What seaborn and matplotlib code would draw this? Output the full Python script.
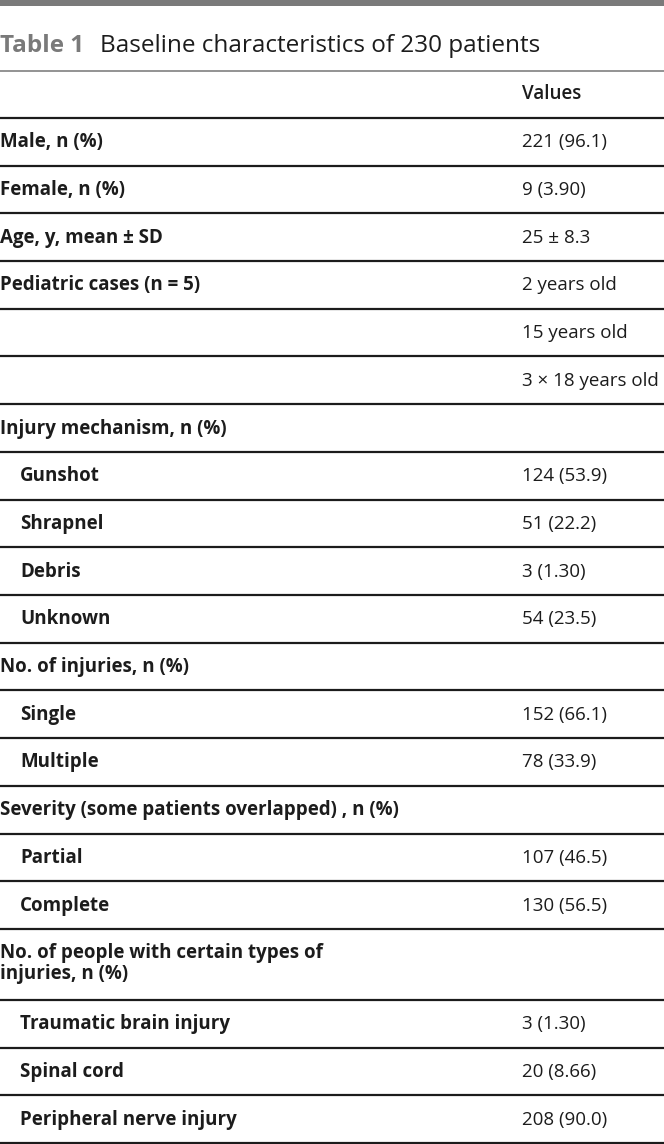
import matplotlib
matplotlib.use("Agg")
import matplotlib.pyplot as plt
import seaborn as sns

sns.set_theme(style="white")
plt.rcParams['font.family'] = ['Open Sans', 'DejaVu Sans']

title_num = "Table 1"
title_text = "Baseline characteristics of 230 patients"
col_header = "Values"

labels = [
    "Male, n (%)", "Female, n (%)", "Age, y, mean ± SD", "Pediatric cases (n = 5)", "", "",
    "Injury mechanism, n (%)", "Gunshot", "Shrapnel", "Debris", "Unknown",
    "No. of injuries, n (%)", "Single", "Multiple",
    "Severity (some patients overlapped) , n (%)", "Partial", "Complete",
    "No. of people with certain types of\ninjuries, n (%)",
    "Traumatic brain injury", "Spinal cord", "Peripheral nerve injury",
]
values = [
    "221 (96.1)", "9 (3.90)", "25 ± 8.3", "2 years old", "15 years old", "3 × 18 years old",
    "", "124 (53.9)", "51 (22.2)", "3 (1.30)", "54 (23.5)",
    "", "152 (66.1)", "78 (33.9)",
    "", "107 (46.5)", "130 (56.5)",
    "",
    "3 (1.30)", "20 (8.66)", "208 (90.0)",
]
indent = [0, 0, 0, 0, 0, 0,
          0, 1, 1, 1, 1,
          0, 1, 1,
          0, 1, 1,
          0,
          1, 1, 1]

W, H = 664, 1144
fig = plt.figure(figsize=(W / 100, H / 100), dpi=100)
ax = fig.add_axes([0, 0, 1, 1])
ax.set_xlim(0, W)
ax.set_ylim(H, 0)
ax.axis("off")

ink = "#1c1c1c"
gray = "#7a7a7a"
fs = 13.5

# top bar
ax.axhspan(0, 6, color=gray, lw=0)
# title
ax.text(0, 52, title_num, fontsize=17.5, fontweight="bold", color=gray, va="baseline", ha="left")
ax.text(100, 52, title_text, fontsize=17.5, color=ink, va="baseline", ha="left")
ax.axhline(70.5, color="#8a8a8a", lw=1.3)

# header
ax.text(522, 99, col_header, fontsize=fs, fontweight="semibold", color=ink, va="baseline")
y = 118
ax.axhline(y, color=ink, lw=1.6)

row_h = 47.7
for lab, val, ind in zip(labels, values, indent):
    two = "\n" in lab
    h = 71 if two else row_h
    cy = y + h / 2
    if lab:
        if two:
            first, second = lab.split("\n")
            ax.text(0, y + 29, first, fontsize=fs, fontweight="bold", color=ink,
                    va="baseline", ha="left")
            ax.text(0, y + 50.5, second, fontsize=fs, fontweight="bold", color=ink,
                    va="baseline", ha="left")
        else:
            ax.text(20 if ind else 0, cy + 5.5, lab, fontsize=fs, fontweight="bold", color=ink,
                    va="baseline", ha="left")
    if val:
        ax.text(522, cy + 5.5, val, fontsize=fs, color=ink, va="baseline", ha="left")
    y += h
    ax.axhline(y, color=ink, lw=1.6)

fig.savefig("out.png", dpi=100)
